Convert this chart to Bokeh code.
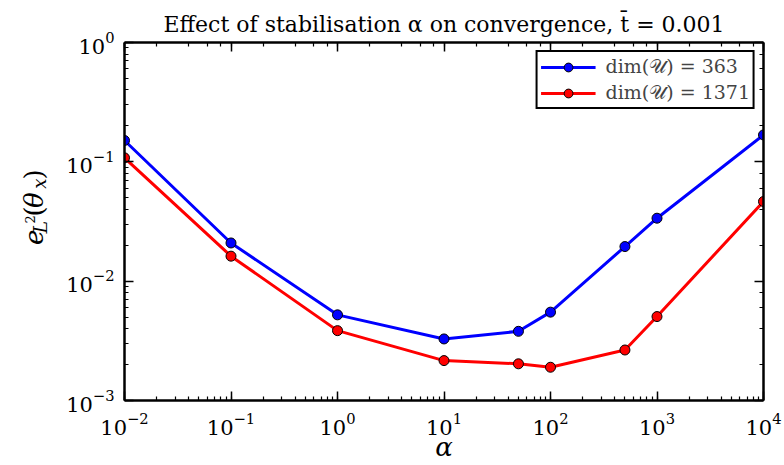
import math
from bokeh.plotting import figure
from bokeh.layouts import row
from bokeh.models import (LogAxis, LogTicker, Label, Legend, LegendItem,
                          CustomJSTickFormatter, ColumnDataSource, Range1d)
from bokeh.embed import file_html
from bokeh.resources import INLINE

# ---- data ----
alpha = [1e-2, 1e-1, 1e0, 1e1, 5e1, 1e2, 5e2, 1e3, 1e4]
err_363 = [0.151, 0.0209, 0.00522, 0.00328, 0.0038, 0.0055, 0.0195, 0.0337, 0.168]
err_1371 = [0.108, 0.0162, 0.00385, 0.00216, 0.00203, 0.0019, 0.00265, 0.00505, 0.0465]
series_labels = ["dim(𝒰) = 363", "dim(𝒰) = 1371"]
series_colors = ["#0000ff", "#ff0000"]
title_text = "Effect of stabilisation α on convergence, t\u0304 = 0.001"
x_label = "α"
x_limits = (1e-2, 1e4)
y_limits = (1e-3, 1e0)

SERIF = "DejaVu Serif"
W, H = 784, 465
LW = 50   # width of the strip that holds the y-axis label

p = figure(width=W - LW, height=H, x_axis_type="log", y_axis_type="log",
           x_range=x_limits, y_range=y_limits,
           output_backend="svg", toolbar_location=None,
           min_border_left=124 - LW, min_border_right=21,
           min_border_top=42, min_border_bottom=65)

bottom_ax = p.below[0]
left_ax = p.left[0]

p.title.text = title_text
p.title.align = "center"
p.title.vertical_align = "top"
p.title.text_font = SERIF
p.title.text_font_size = "22px"
p.title.text_font_style = "normal"
p.title.text_color = "black"
p.title.standoff = 8

p.xgrid.visible = False
p.ygrid.visible = False
p.outline_line_color = None
p.background_fill_color = "white"
p.border_fill_color = "white"

# extra axes on top / right (ticks only)
top_ax = LogAxis(ticker=LogTicker(), formatter=CustomJSTickFormatter(code="return ''"))
right_ax = LogAxis(ticker=LogTicker(), formatter=CustomJSTickFormatter(code="return ''"))
p.add_layout(top_ax, "above")
p.add_layout(right_ax, "right")

for ax in [bottom_ax, left_ax, top_ax, right_ax]:
    ax.axis_line_width = 2.5
    ax.axis_line_color = "black"
    ax.major_tick_in = 9
    ax.major_tick_out = 0
    ax.minor_tick_in = 4
    ax.minor_tick_out = 0
    ax.major_tick_line_width = 1.5
    ax.minor_tick_line_width = 1.2
    ax.major_tick_line_color = "black"
    ax.minor_tick_line_color = "black"
    ax.major_label_text_font = SERIF
    ax.major_label_text_font_size = "21px"
    ax.major_label_text_color = "black"

top_ax.major_label_text_font_size = "1px"
right_ax.major_label_text_font_size = "1px"
top_ax.major_label_standoff = 7
right_ax.major_label_standoff = 0
bottom_ax.major_label_standoff = 12
left_ax.major_label_standoff = 10

bottom_ax.axis_label = x_label
bottom_ax.axis_label_text_font = SERIF
bottom_ax.axis_label_text_font_size = "26px"
bottom_ax.axis_label_text_font_style = "italic"
bottom_ax.axis_label_text_color = "black"
bottom_ax.axis_label_standoff = -6

src1 = ColumnDataSource(dict(x=alpha, y=err_363))
src2 = ColumnDataSource(dict(x=alpha, y=err_1371))
l1 = p.line("x", "y", source=src1, line_color=series_colors[0], line_width=3)
s1 = p.scatter("x", "y", source=src1, size=10, fill_color=series_colors[0],
               line_color="black", line_width=1)
l2 = p.line("x", "y", source=src2, line_color=series_colors[1], line_width=3)
s2 = p.scatter("x", "y", source=src2, size=10, fill_color=series_colors[1],
               line_color="black", line_width=1)

legend = Legend(items=[LegendItem(label=series_labels[0], renderers=[l1, s1]),
                       LegendItem(label=series_labels[1], renderers=[l2, s2])],
                location="top_right")
legend.border_line_color = "black"
legend.border_line_width = 2
legend.border_line_alpha = 1
legend.label_text_font = SERIF
legend.label_text_font_size = "19px"
legend.label_height = 20
legend.glyph_width = 55
legend.glyph_height = 22
legend.spacing = 3
legend.padding = 3
legend.margin = 8
legend.label_standoff = 10
legend.background_fill_alpha = 1
p.add_layout(legend)


def strip(w, h):
    f = figure(width=w, height=h, x_range=Range1d(0, w), y_range=Range1d(h, 0),
               output_backend="svg", toolbar_location=None,
               x_axis_location=None, y_axis_location=None,
               min_border=0, min_border_left=0, min_border_right=0,
               min_border_top=0, min_border_bottom=0)
    f.outline_line_color = None
    f.grid.visible = False
    f.background_fill_color = "white"
    f.border_fill_color = "white"
    return f


# ---- strip with the composite y-axis label e_{L^2}(theta_x) ----
lab = strip(LW, H)
pieces = [
    # text, x of baseline, canvas y where the text starts, size, style
    ("e", 33, 263, 26, "italic"),
    ("L", 39, 248, 19, "italic"),
    ("2", 29, 235, 13, "normal"),
    ("(", 33, 226, 26, "normal"),
    ("θ", 33, 215, 26, "italic"),
    ("x", 39, 190, 18, "italic"),
    (")", 33, 178, 26, "normal"),
]
for t, cx, cy, fs, st in pieces:
    lab.add_layout(Label(x=cx, y=cy, text=t, angle=math.pi / 2,
                         text_align="left", text_baseline="alphabetic",
                         text_font=SERIF, text_font_size=f"{fs}px",
                         text_font_style=st, text_color="black"))

layout = row(lab, p, spacing=0)
open("out.html", "w").write(file_html(layout, INLINE))
